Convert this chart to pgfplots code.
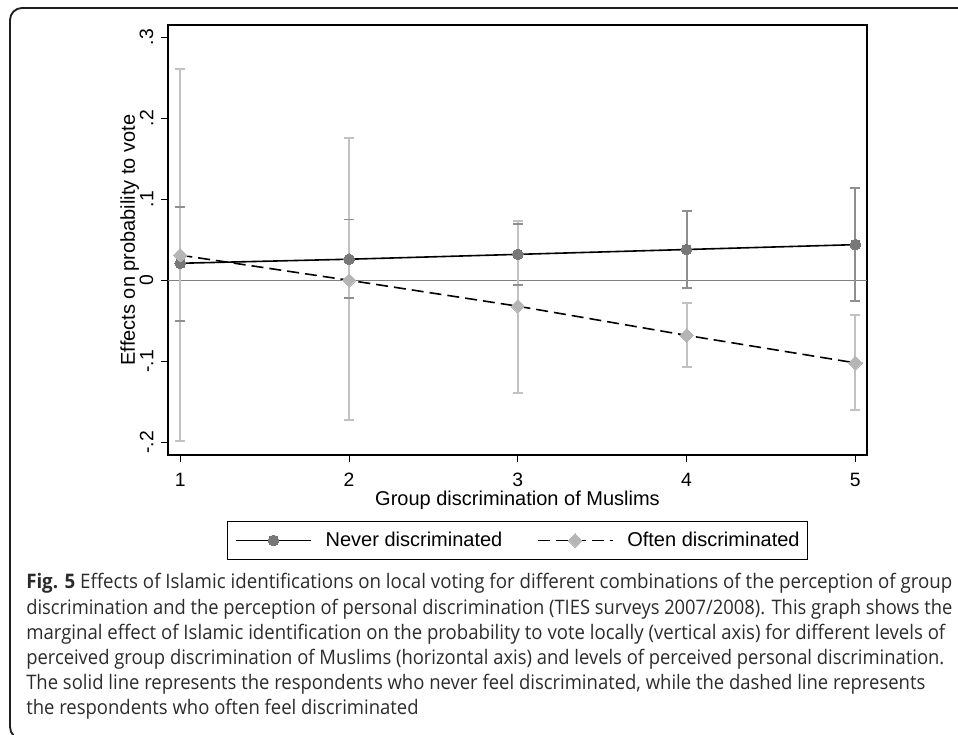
\documentclass[border=0pt]{standalone}
\usepackage{pgfplots}
\pgfplotsset{compat=1.18}
\usepackage{pgfplotstable}
\usepackage{graphicx}
\usepackage{fontspec}
\setmainfont{Liberation Sans}
\newfontfamily\capfont{Open Sans}

\definecolor{nevererr}{gray}{0.56}
\definecolor{nevermark}{gray}{0.47}
\definecolor{oftenerr}{gray}{0.76}
\definecolor{oftenmark}{gray}{0.71}
\definecolor{zeroline}{gray}{0.50}
\definecolor{captext}{gray}{0.17}

\pgfplotstableread{
x est lo hi
1 0.021 -0.050 0.091
2 0.026 -0.022 0.075
3 0.032 -0.006 0.070
4 0.038 -0.010 0.086
5 0.044 -0.026 0.114
}\never

\pgfplotstableread{
x est lo hi
1 0.031 -0.198 0.261
2 0.000 -0.173 0.176
3 -0.032 -0.139 0.073
4 -0.068 -0.107 -0.028
5 -0.102 -0.160 -0.043
}\often

\newcommand\capsize{\fontsize{15}{18}\selectfont}
\newcommand\capline[2]{\resizebox{#1}{\height}{\capfont\capsize #2}}
\newsavebox\capbox
\newlength\caplen

\begin{document}
\sbox\capbox{\capfont\capsize The solid line represents the respondents who never feel discriminated, while the dashed line represents}%
\setlength\caplen{\wd\capbox}%
\pgfmathsetmacro\capsx{674.25/\caplen}%
\begin{tikzpicture}
\useasboundingbox (0,0) rectangle (718.5pt,551.25pt);
\begin{scope}
\clip (0,0) rectangle (718.5pt,551.25pt);
\draw[line width=1.4pt, black!88, rounded corners=9pt] (7.5pt,-3pt) rectangle (745pt,545.25pt);
\end{scope}

\begin{axis}[
  at={(126pt,210pt)}, anchor=south west,
  width=524.25pt, height=322.5pt, scale only axis,
  xmin=0.927, xmax=5.069, ymin=-0.2157, ymax=0.3152,
  xtick={1,2,3,4,5}, xticklabels={1,2,3,4,5},
  ytick={-0.2,-0.1,0,0.1,0.2,0.3}, yticklabels={-.2,-.1,0,.1,.2,.3},
  tick pos=left, tick align=outside, major tick length=5.25pt,
  tick style={black, line width=0.8pt},
  axis line style={line width=1.2pt, black},
  tick label style={font=\fontsize{14.5}{16}\selectfont},
  yticklabel style={rotate=90, anchor=south, inner sep=0pt, inner ysep=5.5pt},
  xticklabel style={anchor=north, inner sep=0pt, inner ysep=8pt},
  xlabel={Group discrimination of Muslims},
  ylabel={Effects on probability to vote},
  label style={font=\fontsize{15}{18}\selectfont},
  xlabel style={at={(axis description cs:0.5,-0.118)}, anchor=base},
  ylabel style={at={(axis description cs:-0.0475,0.5)}, anchor=base},
  legend columns=2,
  legend cell align=left,
  legend image code/.code={\draw[mark repeat=2,mark phase=2,#1] plot coordinates {(0pt,0pt) (28pt,0pt) (56pt,0pt)};},
  legend style={at={(axis description cs:0.5,-0.1535)}, anchor=north,
    draw=black, line width=0.75pt, inner xsep=6pt, inner ysep=8pt,
    font=\fontsize{15}{18}\selectfont,
    nodes={inner sep=0pt},
    /tikz/every odd column/.append style={column sep=10.5pt},
    /tikz/every even column/.append style={column sep=26pt}},
]
\addplot[zeroline, line width=1.1pt, forget plot] coordinates {(0.927,0) (5.069,0)};
% confidence intervals: bars
\addplot[nevererr, line width=1.4pt, only marks, mark=none, forget plot,
  error bars/.cd, y dir=both, y explicit, error mark=none,
  error bar style={line width=1.4pt, nevererr}]
  table[x=x, y=est, y error plus expr=\thisrow{hi}-\thisrow{est}, y error minus expr=\thisrow{est}-\thisrow{lo}] {\never};
\addplot[oftenerr, line width=1.4pt, only marks, mark=none, forget plot,
  error bars/.cd, y dir=both, y explicit, error mark=none,
  error bar style={line width=1.4pt, oftenerr}]
  table[x=x, y=est, y error plus expr=\thisrow{hi}-\thisrow{est}, y error minus expr=\thisrow{est}-\thisrow{lo}] {\often};
% caps
\addplot[nevererr, only marks, mark=-, mark size=3.75pt, mark options={line width=1.4pt}, forget plot] table[x=x, y=lo] {\never};
\addplot[nevererr, only marks, mark=-, mark size=3.75pt, mark options={line width=1.4pt}, forget plot] table[x=x, y=hi] {\never};
\addplot[oftenerr, only marks, mark=-, mark size=3.75pt, mark options={line width=1.4pt}, forget plot] table[x=x, y=lo] {\often};
\addplot[oftenerr, only marks, mark=-, mark size=3.75pt, mark options={line width=1.4pt}, forget plot] table[x=x, y=hi] {\often};
% estimates
\addplot[black, line width=1.2pt, mark=*, mark size=4pt,
  mark options={solid, fill=nevermark, draw=nevermark, line width=0pt}]
  table[x=x, y=est] {\never};
\addlegendentry{Never discriminated}
\addplot[black, line width=1.2pt, dash pattern=on 9pt off 4.5pt, mark=square*, mark size=3.6pt,
  mark options={solid, rotate=45, fill=oftenmark, draw=oftenmark, line width=0pt}]
  table[x=x, y=est] {\often};
\addlegendentry{Often discriminated}
\end{axis}

\begin{scope}[every node/.style={anchor=base west, inner sep=0pt, text=captext}]
\node at (19.5pt,109.5pt) {\capline{694.5pt}{\textbf{Fig. 5} Effects of Islamic identifications on local voting for different combinations of the perception of group}};
\node at (19.5pt,90.6pt) {\capline{694.5pt}{discrimination and the perception of personal discrimination (TIES surveys 2007/2008). This graph shows the}};
\node at (19.5pt,71.7pt) {\capline{689.25pt}{marginal effect of Islamic identification on the probability to vote locally (vertical axis) for different levels of}};
\node at (19.5pt,52.8pt) {\capline{688.5pt}{perceived group discrimination of Muslims (horizontal axis) and levels of perceived personal discrimination.}};
\node at (19.5pt,33.9pt) {\capline{674.25pt}{The solid line represents the respondents who never feel discriminated, while the dashed line represents}};
\node at (19.5pt,15pt) {\scalebox{\capsx}[1]{\capfont\capsize the respondents who often feel discriminated}};
\end{scope}
\end{tikzpicture}
\end{document}
